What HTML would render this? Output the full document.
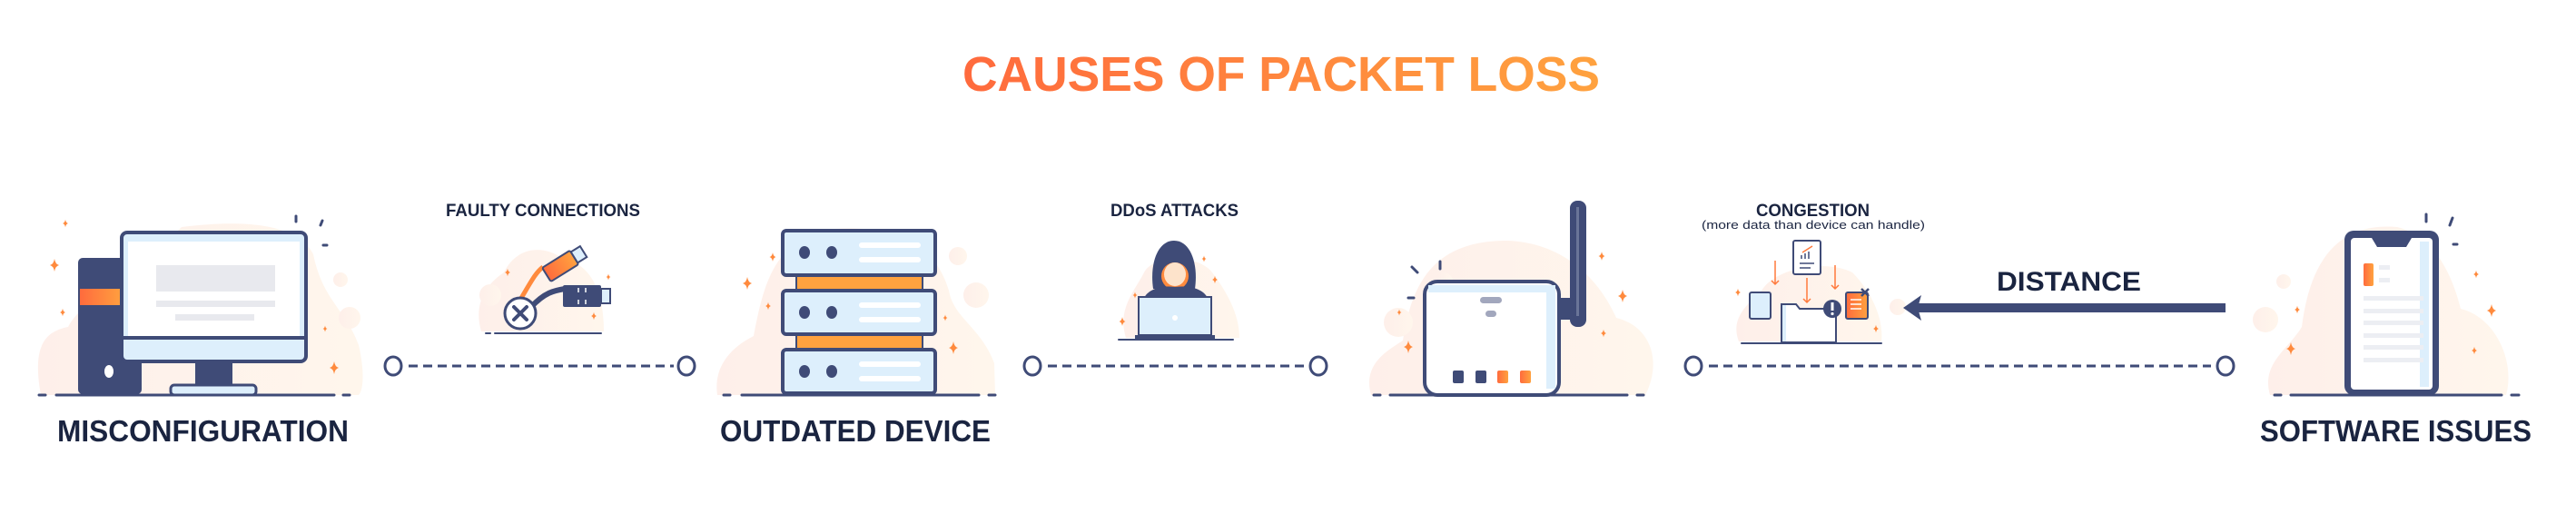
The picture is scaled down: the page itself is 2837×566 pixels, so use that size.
<!DOCTYPE html>
<html><head><meta charset="utf-8"><style>
html,body{margin:0;padding:0;background:#fff;width:2837px;height:566px;overflow:hidden}
svg{display:block}
</style></head><body>
<svg width="2837" height="566" viewBox="0 0 2837 566" xmlns="http://www.w3.org/2000/svg" font-family="'Liberation Sans', sans-serif" font-weight="bold">
<defs>
<linearGradient id="tg" x1="0" x2="1" y1="0" y2="0"><stop offset="0" stop-color="#FF6A3D"/><stop offset="1" stop-color="#FFA23F"/></linearGradient>
<linearGradient id="og" x1="0" x2="1"><stop offset="0" stop-color="#FF6B3D"/><stop offset="1" stop-color="#FFA23F"/></linearGradient>
<linearGradient id="blob" x1="0" x2="1"><stop offset="0" stop-color="#FEEFEA"/><stop offset="1" stop-color="#FFF6EC"/></linearGradient>
<path id="sp" d="M0 -7 Q1 -1 5 0 Q1 1 0 7 Q-1 1 -5 0 Q-1 -1 0 -7Z" fill="#FF8A3D"/>
</defs>
<g fill="#1A2440">
<text x="1060" y="100" font-size="54" fill="url(#tg)" textLength="702" lengthAdjust="spacingAndGlyphs">CAUSES OF PACKET LOSS</text>
<text x="63" y="486" font-size="33" textLength="321" lengthAdjust="spacingAndGlyphs">MISCONFIGURATION</text>
<text x="793" y="486" font-size="33" textLength="298" lengthAdjust="spacingAndGlyphs">OUTDATED DEVICE</text>
<text x="2489" y="486" font-size="33" textLength="299" lengthAdjust="spacingAndGlyphs">SOFTWARE ISSUES</text>
<text x="491" y="238" font-size="19" textLength="214" lengthAdjust="spacingAndGlyphs">FAULTY CONNECTIONS</text>
<text x="1223" y="238" font-size="19" textLength="141" lengthAdjust="spacingAndGlyphs">DDoS ATTACKS</text>
<text x="1934" y="238" font-size="19" textLength="125" lengthAdjust="spacingAndGlyphs">CONGESTION</text>
<text x="1874" y="252" font-size="13" font-weight="normal" textLength="246" lengthAdjust="spacingAndGlyphs">(more data than device can handle)</text>
<text x="2199" y="320" font-size="30" textLength="159" lengthAdjust="spacingAndGlyphs">DISTANCE</text>
</g>

<!-- blobs -->
<g fill="url(#blob)">
<path d="M45 435 C35 380 50 365 75 360 C90 330 150 300 200 250 C280 240 330 250 345 280 C355 330 380 340 395 380 C402 410 400 430 395 435 Z"/>
<path d="M790 435 C785 400 810 380 830 370 C840 320 850 260 920 252 C990 248 1030 270 1045 320 C1050 350 1080 360 1095 400 L1096 435 Z"/>
<path d="M1510 435 C1500 400 1530 385 1545 375 C1555 310 1580 265 1660 265 C1720 267 1760 305 1780 350 C1820 360 1830 400 1812 435 Z"/>
<path d="M2500 435 C2490 400 2520 385 2535 360 C2545 280 2580 245 2640 250 C2680 260 2700 300 2710 340 C2750 350 2770 400 2760 435 Z"/>
<path d="M530 365 C520 330 540 310 555 300 C570 270 600 270 620 285 C650 290 665 320 665 365 Z"/>
<path d="M1240 372 C1230 340 1250 320 1260 300 C1270 280 1320 280 1335 300 C1350 320 1365 345 1365 372 Z"/>
<path d="M1915 376 C1905 350 1925 335 1940 320 C1955 295 2010 285 2040 300 C2060 320 2075 350 2072 376 Z"/>
<circle cx="375" cy="308" r="8"/><circle cx="385" cy="350" r="12"/><circle cx="1055" cy="282" r="10"/><circle cx="1075" cy="325" r="14"/>
<circle cx="1590" cy="310" r="10"/><circle cx="1540" cy="355" r="16"/><circle cx="2515" cy="310" r="8"/><circle cx="2495" cy="352" r="14"/>
<circle cx="540" cy="325" r="12"/><circle cx="2090" cy="338" r="9"/>
</g>

<!-- dashed connectors -->
<g stroke="#3F4B77" stroke-width="3" fill="#fff">
<line x1="450" y1="403" x2="742" y2="403" stroke-dasharray="10 6"/>
<line x1="1154" y1="403" x2="1438" y2="403" stroke-dasharray="10 6"/>
<line x1="1882" y1="403" x2="2435" y2="403" stroke-dasharray="10 6"/>
<ellipse cx="433" cy="403" rx="9" ry="10"/><ellipse cx="756" cy="403" rx="9" ry="10"/>
<ellipse cx="1137" cy="403" rx="9" ry="10"/><ellipse cx="1452" cy="403" rx="9" ry="10"/>
<ellipse cx="1865" cy="403" rx="9" ry="10"/><ellipse cx="2451" cy="403" rx="9" ry="10"/>
</g>

<!-- distance arrow -->
<rect x="2112" y="334" width="339" height="10" fill="#3F4B77"/>
<polygon points="2096,339 2116,325 2112,339 2116,353" fill="#3F4B77"/>

<!-- ground lines -->
<g stroke="#3F4B77" stroke-width="3" stroke-linecap="round">
<line x1="62" y1="435" x2="368" y2="435"/><line x1="43" y1="435" x2="50" y2="435"/><line x1="378" y1="435" x2="385" y2="435"/>
<line x1="817" y1="435" x2="1078" y2="435"/><line x1="797" y1="435" x2="804" y2="435"/><line x1="1089" y1="435" x2="1096" y2="435"/>
<line x1="1531" y1="435" x2="1792" y2="435"/><line x1="1513" y1="435" x2="1520" y2="435"/><line x1="1803" y1="435" x2="1810" y2="435"/>
<line x1="2523" y1="435" x2="2755" y2="435"/><line x1="2505" y1="435" x2="2512" y2="435"/><line x1="2766" y1="435" x2="2774" y2="435"/>
<line x1="545" y1="367" x2="662" y2="367" stroke-width="2"/><line x1="535" y1="367" x2="540" y2="367" stroke-width="2"/>
<line x1="1232" y1="374" x2="1358" y2="374" stroke-width="2"/>
<line x1="1918" y1="378" x2="2072" y2="378" stroke-width="2"/>
</g>

<!-- monitor -->
<rect x="86" y="284" width="70" height="150" rx="5" fill="#3F4B77"/>
<rect x="88" y="318" width="48" height="18" fill="url(#og)"/>
<ellipse cx="120" cy="409" rx="5" ry="7" fill="#fff"/>
<rect x="215" y="396" width="41" height="30" fill="#3F4B77"/>
<rect x="188" y="424" width="94" height="11" rx="4" fill="#DDEFFC" stroke="#3F4B77" stroke-width="3"/>
<rect x="134" y="256" width="203" height="142" rx="6" fill="#DDEFFC" stroke="#3F4B77" stroke-width="4"/>
<rect x="141" y="266" width="189" height="104" fill="#fff"/>
<line x1="134" y1="372" x2="337" y2="372" stroke="#3F4B77" stroke-width="4"/>
<rect x="172" y="292" width="131" height="29" fill="#E8E9EE"/>
<rect x="172" y="331" width="131" height="7" fill="#E8E9EE"/>
<rect x="193" y="346" width="87" height="7" fill="#E8E9EE"/>
<g stroke="#3F4B77" stroke-width="3" stroke-linecap="round"><line x1="326" y1="238" x2="326" y2="244"/><line x1="355" y1="243" x2="353" y2="248"/><line x1="356" y1="270" x2="360" y2="270"/></g>

<!-- server -->
<rect x="877" y="303" width="139" height="17" fill="#FFA23F" stroke="#3F4B77" stroke-width="2"/>
<rect x="877" y="368" width="139" height="16" fill="#FFA23F" stroke="#3F4B77" stroke-width="2"/>
<g fill="#DDEFFC" stroke="#3F4B77" stroke-width="4">
<rect x="862" y="254" width="168" height="49" rx="4"/>
<rect x="862" y="320" width="168" height="48" rx="4"/>
<rect x="862" y="385" width="168" height="48" rx="4"/>
</g>
<g fill="#3F4B77"><ellipse cx="886" cy="278" rx="6" ry="7"/><ellipse cx="916" cy="278" rx="6" ry="7"/><ellipse cx="886" cy="344" rx="6" ry="7"/><ellipse cx="916" cy="344" rx="6" ry="7"/><ellipse cx="886" cy="409" rx="6" ry="7"/><ellipse cx="916" cy="409" rx="6" ry="7"/></g>
<g fill="#fff"><rect x="946" y="267" width="68" height="6" rx="3"/><rect x="946" y="283" width="68" height="6" rx="3"/><rect x="946" y="333" width="68" height="6" rx="3"/><rect x="946" y="349" width="68" height="6" rx="3"/><rect x="946" y="398" width="68" height="6" rx="3"/><rect x="946" y="414" width="68" height="6" rx="3"/></g>

<!-- router -->
<rect x="1716" y="328" width="13" height="24" fill="#3F4B77"/>
<rect x="1729" y="221" width="18" height="139" rx="8" fill="#3F4B77"/>
<rect x="1736" y="228" width="3" height="120" fill="#6A7598"/>
<rect x="1569" y="310" width="148" height="125" rx="14" fill="#fff" stroke="#3F4B77" stroke-width="4"/>
<rect x="1573" y="314" width="140" height="8" fill="#DDEFFC"/>
<rect x="1703" y="318" width="10" height="110" fill="#DDEFFC"/>
<rect x="1630" y="327" width="24" height="7" rx="3.5" fill="#A2A7BD"/>
<rect x="1636" y="342" width="12" height="7" rx="3.5" fill="#A2A7BD"/>
<rect x="1600" y="408" width="12" height="14" rx="2" fill="#3F4B77"/><rect x="1625" y="408" width="12" height="14" rx="2" fill="#3F4B77"/>
<rect x="1649" y="408" width="12" height="14" rx="2" fill="url(#og)"/><rect x="1674" y="408" width="12" height="14" rx="2" fill="url(#og)"/>
<g stroke="#3F4B77" stroke-width="3" stroke-linecap="round"><line x1="1586" y1="288" x2="1586" y2="296"/><line x1="1555" y1="294" x2="1561" y2="300"/><line x1="1551" y1="328" x2="1557" y2="328"/></g>

<!-- phone -->
<rect x="2582" y="254" width="104" height="181" rx="10" fill="#3F4B77"/>
<rect x="2589" y="262" width="90" height="167" rx="4" fill="#fff"/>
<rect x="2665" y="266" width="10" height="160" fill="#DDEFFC"/>
<path d="M2612 262 L2656 262 L2650 272 L2618 272 Z" fill="#3F4B77"/>
<rect x="2603" y="290" width="11" height="25" rx="2" fill="url(#og)"/>
<g fill="#ECEEF3"><rect x="2620" y="292" width="12" height="5"/><rect x="2620" y="306" width="12" height="5"/><rect x="2603" y="326" width="66" height="5"/><rect x="2603" y="340" width="66" height="5"/><rect x="2603" y="353" width="66" height="5"/><rect x="2603" y="367" width="66" height="5"/><rect x="2603" y="380" width="66" height="5"/><rect x="2603" y="394" width="66" height="5"/></g>
<g stroke="#3F4B77" stroke-width="3" stroke-linecap="round"><line x1="2672" y1="236" x2="2672" y2="244"/><line x1="2701" y1="240" x2="2698" y2="248"/><line x1="2702" y1="269" x2="2706" y2="269"/></g>

<!-- faulty cable -->
<path d="M573 330 C585 310 590 300 598 294" stroke="#FF8A3D" stroke-width="5" fill="none"/>
<path d="M585 338 C600 322 610 320 622 318" stroke="#3F4B77" stroke-width="6" fill="none"/>
<g transform="rotate(-32 620 290)"><rect x="598" y="282" width="36" height="18" rx="2" fill="url(#og)" stroke="#3F4B77" stroke-width="2"/><rect x="634" y="284" width="12" height="14" fill="#DDEFFC" stroke="#3F4B77" stroke-width="2"/></g>
<rect x="620" y="314" width="42" height="24" rx="2" fill="#3F4B77"/><rect x="662" y="318" width="10" height="16" fill="#DDEFFC" stroke="#3F4B77" stroke-width="2"/>
<g stroke="#fff" stroke-width="1.5"><line x1="637" y1="317" x2="637" y2="322"/><line x1="645" y1="317" x2="645" y2="322"/><line x1="637" y1="330" x2="637" y2="335"/><line x1="645" y1="330" x2="645" y2="335"/></g>
<circle cx="573" cy="345" r="17" fill="#fff" stroke="#3F4B77" stroke-width="3"/>
<path d="M566 338 L580 352 M580 338 L566 352" stroke="#3F4B77" stroke-width="4" stroke-linecap="round"/>

<!-- hacker -->
<path d="M1270 318 C1266 290 1275 265 1293 265 C1311 265 1320 290 1316 318 Z" fill="#3F4B77"/>
<ellipse cx="1294" cy="304" rx="15" ry="15" fill="#FF8A3D"/>
<ellipse cx="1294" cy="302" rx="12" ry="13" fill="#FDE3CB"/>
<path d="M1260 328 C1265 318 1280 314 1294 316 C1310 314 1325 318 1330 328 Z" fill="#3F4B77"/>
<rect x="1254" y="327" width="80" height="42" fill="#DDEFFC" stroke="#3F4B77" stroke-width="2"/>
<circle cx="1294" cy="350" r="3" fill="#fff"/>
<rect x="1250" y="369" width="88" height="4" fill="#3F4B77"/>

<!-- congestion -->
<rect x="1975" y="265" width="30" height="37" rx="2" fill="#fff" stroke="#3F4B77" stroke-width="2"/>
<g stroke="#3F4B77" stroke-width="1.5"><line x1="1982" y1="290" x2="1998" y2="290"/><line x1="1982" y1="295" x2="1994" y2="295"/><line x1="1984" y1="285" x2="1984" y2="281"/><line x1="1988" y1="285" x2="1988" y2="279"/><line x1="1992" y1="285" x2="1992" y2="277"/></g>
<line x1="1985" y1="278" x2="1996" y2="271" stroke="#FF7A3D" stroke-width="1.5"/>
<g stroke="#FF7A3D" stroke-width="1.5" fill="none"><path d="M1955 287 V313 M1951 309 L1955 313 L1959 309"/><path d="M1990 306 V333 M1986 329 L1990 333 L1994 329"/><path d="M2021 292 V318 M2017 314 L2021 318 L2025 314"/></g>
<rect x="1927" y="322" width="23" height="29" rx="2" fill="#DDEFFC" stroke="#3F4B77" stroke-width="2"/>
<path d="M1962 377 V335 h16 l4 5 h40 v37 Z" fill="#fff" stroke="#3F4B77" stroke-width="2"/>
<rect x="1963" y="336" width="4" height="40" fill="#DDEFFC"/>
<circle cx="2018" cy="340" r="10" fill="#3F4B77"/><rect x="2016.5" y="333" width="3" height="9" fill="#fff"/><circle cx="2018" cy="345.5" r="1.6" fill="#fff"/>
<rect x="2033" y="322" width="24" height="29" rx="2" fill="url(#og)" stroke="#3F4B77" stroke-width="2"/>
<g stroke="#fff" stroke-width="1.5"><line x1="2038" y1="330" x2="2050" y2="330"/><line x1="2038" y1="335" x2="2050" y2="335"/><line x1="2038" y1="340" x2="2050" y2="340"/></g>
<path d="M2050 318 L2058 326 M2058 318 L2050 326" stroke="#3F4B77" stroke-width="2.5"/>

<!-- sparkles (absolute) -->
<use href="#sp" transform="translate(60 292)"/>
<use href="#sp" transform="translate(72 246) scale(0.6)"/>
<use href="#sp" transform="translate(69 344) scale(0.6)"/>
<use href="#sp" transform="translate(368 405)"/>
<use href="#sp" transform="translate(358 362) scale(0.5)"/>
<use href="#sp" transform="translate(823 312)"/>
<use href="#sp" transform="translate(851 283) scale(0.7)"/>
<use href="#sp" transform="translate(846 337) scale(0.6)"/>
<use href="#sp" transform="translate(1050 383)"/>
<use href="#sp" transform="translate(1041 350) scale(0.5)"/>
<use href="#sp" transform="translate(1551 382)"/>
<use href="#sp" transform="translate(1541 344) scale(0.5)"/>
<use href="#sp" transform="translate(1787 326)"/>
<use href="#sp" transform="translate(1764 282) scale(0.7)"/>
<use href="#sp" transform="translate(1766 367) scale(0.6)"/>
<use href="#sp" transform="translate(2744 342)"/>
<use href="#sp" transform="translate(2727 302) scale(0.6)"/>
<use href="#sp" transform="translate(2523 384)"/>
<use href="#sp" transform="translate(2530 341) scale(0.6)"/>
<use href="#sp" transform="translate(2725 386) scale(0.6)"/>
<use href="#sp" transform="translate(1236 354) scale(0.7)"/>
<use href="#sp" transform="translate(1250 325) scale(0.5)"/>
<use href="#sp" transform="translate(1338 308) scale(0.6)"/>
<use href="#sp" transform="translate(1326 285) scale(0.5)"/>
<use href="#sp" transform="translate(1914 322) scale(0.6)"/>
<use href="#sp" transform="translate(2066 362) scale(0.6)"/>
<use href="#sp" transform="translate(559 300) scale(0.6)"/>
<use href="#sp" transform="translate(654 348) scale(0.6)"/>
<use href="#sp" transform="translate(670 305) scale(0.5)"/>
</svg>
</body></html>
